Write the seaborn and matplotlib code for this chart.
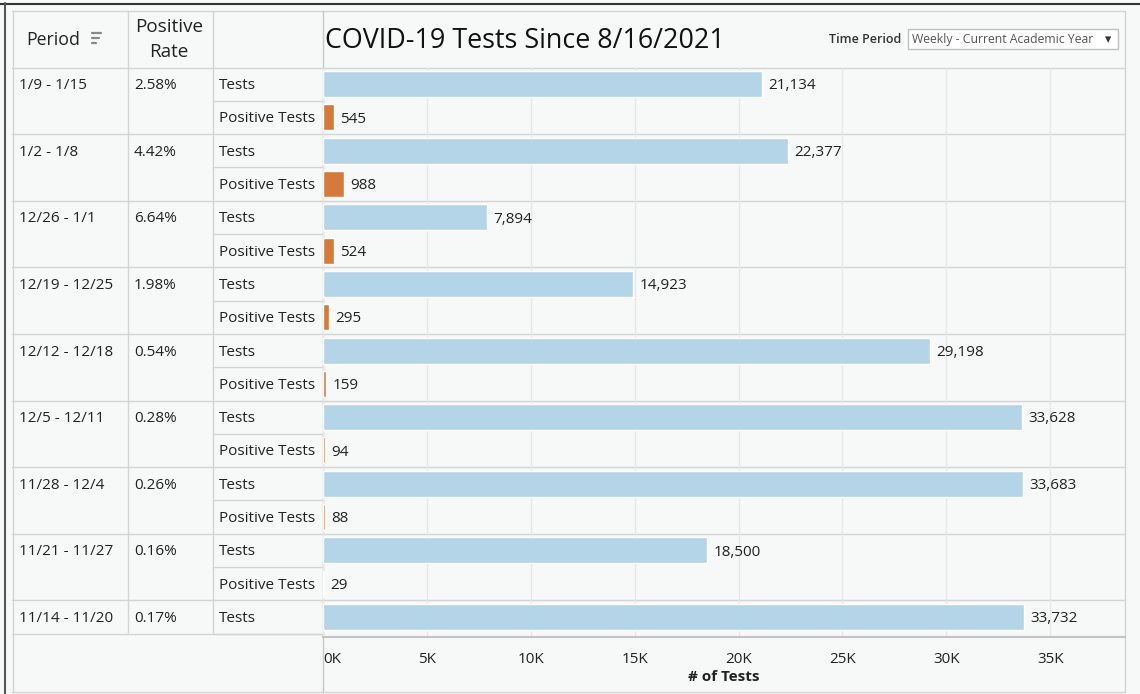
import matplotlib
matplotlib.use("Agg")
import matplotlib.pyplot as plt
from matplotlib.lines import Line2D
from matplotlib.patches import Rectangle
import seaborn as sns
import pandas as pd

# data
periods = ['1/9 - 1/15', '1/2 - 1/8', '12/26 - 1/1', '12/19 - 12/25', '12/12 - 12/18',
           '12/5 - 12/11', '11/28 - 12/4', '11/21 - 11/27', '11/14 - 11/20']
pos_rate = ['2.58%', '4.42%', '6.64%', '1.98%', '0.54%', '0.28%', '0.26%', '0.16%', '0.17%']
tests = [21134, 22377, 7894, 14923, 29198, 33628, 33683, 18500, 33732]
positive = [545, 988, 524, 295, 159, 94, 88, 29]   # last one is scrolled out of view
xticks = [0, 5000, 10000, 15000, 20000, 25000, 30000, 35000]
xtick_labels = ['0K', '5K', '10K', '15K', '20K', '25K', '30K', '35K']

rows = []
for i, p in enumerate(periods):
    rows.append({'key': p + ' T', 'measure': 'Tests', 'value': tests[i]})
    if i < len(positive):
        rows.append({'key': p + ' P', 'measure': 'Positive Tests', 'value': positive[i]})
df = pd.DataFrame(rows)

sns.set_style('white')
plt.rcParams['font.family'] = ['Open Sans', 'DejaVu Sans']

BG = '#f7f8f8'
LINE = '#d4d4d4'
TXT = '#222222'
W, H = 1140, 694
FS = 11

fig = plt.figure(figsize=(11.4, 6.94), dpi=100)
fig.patch.set_facecolor(BG)

# background axes in pixel coords for the table part
bg = fig.add_axes([0, 0, 1, 1])
bg.set_xlim(0, W)
bg.set_ylim(H, 0)
bg.axis('off')

def hline(y, x0, x1, c=LINE, lw=1.0):
    bg.add_line(Line2D([x0, x1], [y, y], color=c, lw=lw))

def vline(x, y0, y1, c=LINE, lw=1.0):
    bg.add_line(Line2D([x, x], [y0, y1], color=c, lw=lw))

# frame
hline(3.5, 0, W, c='#333333', lw=1.5)
vline(4.5, 3, H, c='#555555', lw=1.5)
hline(11, 12, 1125)
hline(67.5, 12, 1125)
vline(12.5, 11, 692)
vline(128, 11, 634)
vline(213, 11, 634)
vline(323, 11, H, c='#c8c8c8')
vline(1125, 11, 692)
hline(692, 12, 1125)
hline(634, 12, 323)

top = 67.5
ph = 66.6
for i in range(len(periods)):
    y0 = top + i * ph
    if i > 0:
        hline(y0, 12, 1125)
    hline(y0 + ph / 2, 213, 323)

# header
bg.text(26, 40, 'Period', fontsize=12.8, color=TXT, va='center', ha='left')
for yy, ln in [(33, 9), (38, 7), (43, 4)]:
    hline(yy, 92, 92 + ln, c='#888888', lw=1.6)
bg.text(169, 39.5, 'Positive\nRate', fontsize=13.6, color=TXT, va='center', ha='center', linespacing=1.45)
bg.text(325, 41, 'COVID-19 Tests Since 8/16/2021', fontsize=19.4, color='#111111', va='center', ha='left')
bg.text(901, 39, 'Time Period', fontsize=9, color='#333333', va='center', ha='right', fontweight='semibold')
bg.add_patch(Rectangle((908, 29), 210, 20, fill=True, facecolor='white', edgecolor='#c0c0c0', lw=1))
bg.text(912, 39.5, 'Weekly - Current Academic Year', fontsize=8.8, color='#555555', va='center', ha='left')
bg.text(1108, 39.5, '\u25BE', fontsize=9, color='#333333', va='center', ha='center')

# row labels
for i, p in enumerate(periods):
    yc = top + i * ph + ph / 4 + 1.5
    bg.text(19, yc, p, fontsize=FS, color=TXT, va='center', ha='left')
    bg.text(134, yc, pos_rate[i], fontsize=FS, color=TXT, va='center', ha='left')
    bg.text(219, yc, 'Tests', fontsize=FS, color=TXT, va='center', ha='left')
    if i < len(positive):
        bg.text(219, yc + ph / 2, 'Positive Tests', fontsize=FS, color=TXT, va='center', ha='left')

# bar chart
ax = fig.add_axes([323 / W, 1 - 637 / H, (1125 - 323) / W, (637 - 67.5) / H])
ax.set_facecolor('none')
sns.barplot(data=df, y='key', x='value', hue='measure', orient='h', dodge=False,
            palette={'Tests': '#b4d4e8', 'Positive Tests': '#d47b3c'},
            width=0.78, saturation=1, legend=False, ax=ax, zorder=3)
rows_visible = (637 - 67.5) / (ph / 2)
ax.set_ylim(rows_visible - 0.5, -0.5)
ax.set_xlim(0, 38600)
for j, v in enumerate(df['value']):
    ax.text(v + 300, j + 0.05, f'{v:,}', fontsize=FS, color=TXT, va='center', ha='left', zorder=4)
ax.set_xticks(xticks)
ax.set_xticklabels(xtick_labels, fontsize=FS, color=TXT)
ax.get_xticklabels()[0].set_horizontalalignment('left')
ax.tick_params(axis='x', length=0, pad=11)
ax.set_yticks([])
ax.set_ylabel('')
ax.set_xlabel('# of Tests', fontsize=FS, fontweight='bold', color=TXT, labelpad=2)
ax.grid(axis='x', color='#e8e8e8', lw=1, zorder=0)
for s in ['top', 'right', 'left']:
    ax.spines[s].set_visible(False)
ax.spines['bottom'].set_color('#c4c4c4')
ax.spines['bottom'].set_linewidth(1.5)

fig.savefig('out.png', dpi=100, facecolor=BG)
